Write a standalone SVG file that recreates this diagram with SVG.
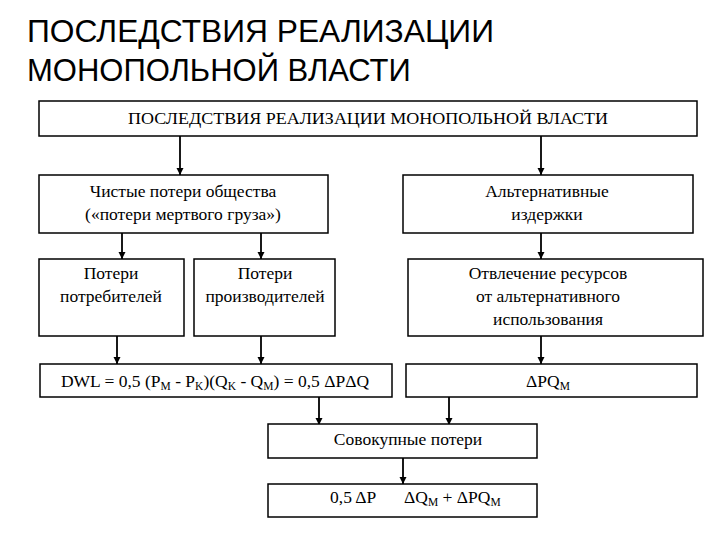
<svg xmlns="http://www.w3.org/2000/svg" width="720" height="540" viewBox="0 0 720 540">
<defs>
<marker id="ah" markerWidth="8" markerHeight="8" refX="7" refY="4" orient="auto" markerUnits="userSpaceOnUse">
<path d="M0,0.5 L7,4 L0,7.5 Z" fill="#000"/>
</marker>
<style>
.box{fill:#fff;stroke:#000;stroke-width:1.5}
.c{stroke:#000;stroke-width:1.8;fill:none;marker-end:url(#ah)}
</style>
</defs>
<rect width="720" height="540" fill="#fff"/>
<g id="title">
<text font-family="Liberation Sans" font-size="31" x="27" y="42" textLength="467" lengthAdjust="spacingAndGlyphs">ПОСЛЕДСТВИЯ РЕАЛИЗАЦИИ</text>
<text font-family="Liberation Sans" font-size="31" x="27" y="81">МОНОПОЛЬНОЙ ВЛАСТИ</text>
</g>

<g id="connectors">
<line class="c" x1="180" y1="136" x2="180" y2="175"/>
<line class="c" x1="541" y1="136" x2="541" y2="175"/>
<line class="c" x1="122" y1="233" x2="122" y2="259"/>
<line class="c" x1="261" y1="233" x2="261" y2="259"/>
<line class="c" x1="541" y1="233" x2="541" y2="259"/>
<line class="c" x1="117" y1="336" x2="117" y2="364"/>
<line class="c" x1="261" y1="336" x2="261" y2="364"/>
<line class="c" x1="541" y1="336" x2="541" y2="364"/>
<line class="c" x1="319" y1="397" x2="319" y2="425"/>
<line class="c" x1="449" y1="397" x2="449" y2="425"/>
<line class="c" x1="403" y1="458" x2="403" y2="484"/>
</g>

<g id="top">
<rect class="box" x="39" y="101" width="658" height="35"/>
<text font-family="Liberation Serif" font-size="17.5" text-anchor="middle" x="368" y="124" textLength="480" lengthAdjust="spacingAndGlyphs">ПОСЛЕДСТВИЯ РЕАЛИЗАЦИИ МОНОПОЛЬНОЙ ВЛАСТИ</text>
</g>
<g id="dwl-loss">
<rect class="box" x="39" y="175" width="289" height="58"/>
<text font-family="Liberation Serif" font-size="17.5" text-anchor="middle" x="183" y="197">Чистые потери общества</text>
<text font-family="Liberation Serif" font-size="17.5" text-anchor="middle" x="183" y="220">(«потери мертвого груза»)</text>
</g>
<g id="alt-cost">
<rect class="box" x="403" y="175" width="290" height="58"/>
<text font-family="Liberation Serif" font-size="17.5" text-anchor="middle" x="547" y="197">Альтернативные</text>
<text font-family="Liberation Serif" font-size="17.5" text-anchor="middle" x="547" y="220">издержки</text>
</g>
<g id="consumers">
<rect class="box" x="39" y="259" width="145" height="77"/>
<text font-family="Liberation Serif" font-size="17.5" text-anchor="middle" x="111" y="279">Потери</text>
<text font-family="Liberation Serif" font-size="17.5" text-anchor="middle" x="111" y="302">потребителей</text>
</g>
<g id="producers">
<rect class="box" x="194" y="259" width="141" height="77"/>
<text font-family="Liberation Serif" font-size="17.5" text-anchor="middle" x="265" y="279">Потери</text>
<text font-family="Liberation Serif" font-size="17.5" text-anchor="middle" x="265" y="302">производителей</text>
</g>
<g id="diversion">
<rect class="box" x="408" y="259" width="295" height="77"/>
<text font-family="Liberation Serif" font-size="17.5" text-anchor="middle" x="548" y="279">Отвлечение ресурсов</text>
<text font-family="Liberation Serif" font-size="17.5" text-anchor="middle" x="548" y="302">от альтернативного</text>
<text font-family="Liberation Serif" font-size="17.5" text-anchor="middle" x="548" y="325">использования</text>
</g>
<g id="dwl-formula">
<rect class="box" x="40" y="364" width="352" height="33"/>
<text font-family="Liberation Serif" font-size="17.5" text-anchor="middle" x="215" y="387">DWL = 0,5 (P<tspan font-size="11.5" dy="3">M</tspan><tspan dy="-3"> - P</tspan><tspan font-size="11.5" dy="3">K</tspan><tspan dy="-3">)(Q</tspan><tspan font-size="11.5" dy="3">K</tspan><tspan dy="-3"> - Q</tspan><tspan font-size="11.5" dy="3">M</tspan><tspan dy="-3">) = 0,5 ΔPΔQ</tspan></text>
</g>
<g id="alt-formula">
<rect class="box" x="406" y="364" width="291" height="33"/>
<text font-family="Liberation Serif" font-size="17.5" text-anchor="middle" x="548" y="387">ΔPQ<tspan font-size="11.5" dy="3">M</tspan></text>
</g>
<g id="total">
<rect class="box" x="268" y="424" width="269" height="34"/>
<text font-family="Liberation Serif" font-size="17.5" text-anchor="middle" x="408" y="445">Совокупные потери</text>
</g>
<g id="total-formula">
<rect class="box" x="268" y="484" width="269" height="33"/>
<text font-family="Liberation Serif" font-size="17.5" x="330" y="503">0,5 ΔP</text>
<text font-family="Liberation Serif" font-size="17.5" x="404" y="503">ΔQ<tspan font-size="11.5" dy="3">M</tspan><tspan dy="-3"> + ΔPQ</tspan><tspan font-size="11.5" dy="3">M</tspan></text>
</g>
</svg>
